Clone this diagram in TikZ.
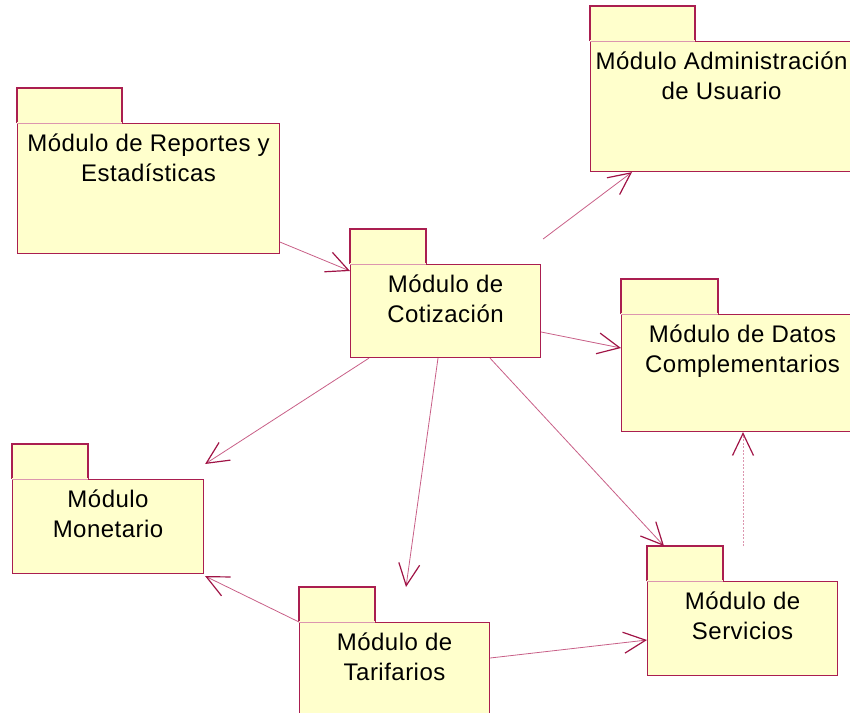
\documentclass[tikz,border=0pt]{standalone}
\usepackage{fontspec}
\setmainfont{Liberation Sans}[LetterSpace=2]
\usetikzlibrary{arrows.meta,calc,positioning}
\definecolor{roseFill}{RGB}{255,255,204}
\definecolor{roseLine}{RGB}{170,30,80}
\definecolor{roseLink}{RGB}{200,95,135}
\definecolor{roseHead}{RGB}{160,20,70}
\definecolor{roseSoft}{RGB}{220,150,175}
\begin{document}
\begin{tikzpicture}[x=1pt,y=-1pt]
\tikzset{
    modBody/.style={rectangle,draw=roseLine,fill=roseFill,line width=1.1pt,inner sep=0pt,anchor=north west},
    modText/.style={inner sep=0pt,align=center,font=\fontsize{24pt}{30pt}\selectfont},
    modDep/.style={draw=roseLink,line width=0.8pt,-{Straight Barb[length=22pt,width=21pt,line width=1.2pt,color=roseHead]}},
    modDepDash/.style={modDep,draw=roseSoft,line width=1pt,dash pattern=on 2pt off 1.5pt},
}
\useasboundingbox (0,0) rectangle (850,712);
\clip (0,0) rectangle (850,712);

\node[modBody,minimum width=262pt,minimum height=130pt] (rep) at (17,123) {};
\node[modBody,minimum width=190pt,minimum height=93pt] (cot) at (350,264) {};
\node[modBody,minimum width=262pt,minimum height=130pt] (adm) at (590,41) {};
\node[modBody,minimum width=242pt,minimum height=117pt] (dat) at (621,314) {};
\node[modBody,minimum width=191pt,minimum height=94pt] (mon) at (12,479) {};
\node[modBody,minimum width=190pt,minimum height=94pt] (tar) at (299,622) {};
\node[modBody,minimum width=190pt,minimum height=94pt] (ser) at (647,581) {};

\foreach \n/\w in {rep/105, cot/76, adm/105, dat/97, mon/76, tar/76, ser/76} {
    \fill[roseFill] (\n.north west) rectangle ++(\w,-35);
    \draw[roseLine,line width=1.1pt] (\n.north west) -- ++(0,-35) -- ++(\w,0) -- ++(0,35);
    \draw[roseFill,line width=1.4pt] (\n.north west) -- ++(\w,0);
    \draw[roseSoft,line width=0.6pt] (\n.north west) -- ++(\w,0);
}

\node[modText,below=11pt of rep.north] (repT) {Módulo de Reportes y\\Estadísticas};
\node[modText,below=11pt of cot.north] (cotT) {Módulo de\\Cotización};
\node[modText,below=11pt of adm.north] (admT) {Módulo Administración\\de Usuario};
\node[modText,below=11pt of dat.north] (datT) {Módulo de Datos\\Complementarios};
\node[modText,below=11pt of mon.north] (monT) {Módulo\\Monetario};
\node[modText,below=11pt of tar.north] (tarT) {Módulo de\\Tarifarios};
\node[modText,below=11pt of ser.north] (serT) {Módulo de\\Servicios};

\draw[modDep] ($(rep.south east)+(0,-12)$) -- ($(cot.north west)+(0,7)$);
\draw[modDep] ($(cot.north east)+(2,-25)$) -- ($(adm.south west)+(42,0)$);
\draw[modDep] ($(cot.north east)+(0,68)$) -- ($(dat.north west)+(0,34)$);
\draw[modDep] ($(cot.south west)+(19,0)$) -- ($(mon.north east)+(1,-15)$);
\draw[modDep] ($(cot.south west)+(88,0)$) -- ($(tar.north west)+(107,-35)$);
\draw[modDep] ($(cot.south west)+(140,0)$) -- ($(ser.north west)+(17,-35)$);
\draw[modDep] (tar.north west) -- ($(mon.south east)+(1,2)$);
\draw[modDep] ($(tar.north east)+(0,36)$) -- ($(ser.north west)+(0,59)$);
\draw[modDepDash] ($(ser.north west)+(96,-35)$) -- ($(dat.south west)+(122,0)$);
\end{tikzpicture}
\end{document}
